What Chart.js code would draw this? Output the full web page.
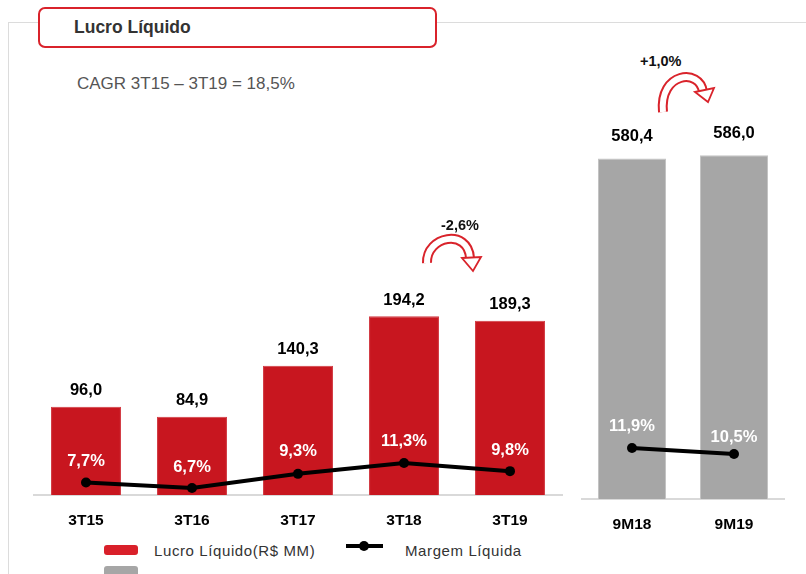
<!DOCTYPE html>
<html>
<head>
<meta charset="utf-8">
<script src="https://cdn.jsdelivr.net/npm/chart.js@4.4.0/dist/chart.umd.min.js"></script>
<style>
  body { margin: 0; width: 806px; height: 574px; overflow: hidden; background: #fff; font-family: "Liberation Sans", Arial, sans-serif; }
  .abs { position: absolute; }
  #frameTop { left: 8px; top: 22px; width: 798px; height: 0; border-top: 1px solid #dcdcdc; }
  #frameLeft { left: 8px; top: 22px; width: 0; height: 552px; border-left: 1px solid #dcdcdc; }
  #titleBox { left: 38px; top: 7px; width: 395px; height: 37px; border: 2px solid #d9232b; border-radius: 7px; background: #fff; }
  #title { left: 74px; top: 17px; font-weight: bold; font-size: 17.5px; color: #333; }
  #cagr { left: 77px; top: 74px; font-size: 17px; color: #555; }
  .leg { font-size: 15px; color: #333; letter-spacing: 0.6px; }
</style>
</head>
<body>
<div id="frameTop" class="abs"></div>
<div id="frameLeft" class="abs"></div>
<div id="titleBox" class="abs"></div>
<div id="title" class="abs">Lucro Líquido</div>
<div id="cagr" class="abs">CAGR 3T15 – 3T19 = 18,5%</div>

<div class="abs" style="left:33px;top:90px;width:530px;height:450px;"><canvas id="leftChart" width="530" height="450"></canvas></div>
<div class="abs" style="left:581px;top:90px;width:204px;height:454px;"><canvas id="rightChart" width="204" height="454"></canvas></div>

<!-- legenda -->
<div class="abs" style="left:104px;top:545px;width:34px;height:10px;background:#d9202a;border-radius:3px;"></div>
<div class="abs" style="left:104px;top:566px;width:34px;height:12px;background:#a6a6a6;border-radius:3px;"></div>
<div class="abs leg" style="left:154px;top:542px;">Lucro Líquido(R$ MM)</div>
<div class="abs" style="left:346px;top:544px;width:37px;height:4px;background:#000;"></div>
<div class="abs" style="left:359px;top:541px;width:10px;height:10px;background:#000;border-radius:50%;"></div>
<div class="abs leg" style="left:405px;top:542px;">Margem Líquida</div>

<div class="abs" style="left:441px;top:217px;font-weight:bold;font-size:14.5px;color:#111;">-2,6%</div>
<div class="abs" style="left:640px;top:53px;font-weight:bold;font-size:14.5px;color:#111;">+1,0%</div>

<svg class="abs" style="left:0;top:0;" width="806" height="574">
  <path d="M427 263 C426 236, 468 228, 470 258" fill="none" stroke="#d9232b" stroke-width="10"/>
  <path d="M427 263 C426 236, 468 228, 470 258" fill="none" stroke="#fff" stroke-width="6"/>
  <polygon points="462,258 481,257 473,271" fill="#fff" stroke="#d9232b" stroke-width="1.8"/>
  <path d="M663 112 C659 72, 700 68, 703 92" fill="none" stroke="#d9232b" stroke-width="10"/>
  <path d="M663 112 C659 72, 700 68, 703 92" fill="none" stroke="#fff" stroke-width="6"/>
  <polygon points="695,92 714,88 708,102" fill="#fff" stroke="#d9232b" stroke-width="1.8"/>
</svg>

<script>
// trimestres
let quarterLabels = ["3T15", "3T16", "3T17", "3T18", "3T19"];
let quarterLucro = [96.0, 84.9, 140.3, 194.2, 189.3];
let quarterMargem = [7.7, 6.7, 9.3, 11.3, 9.8];

// acumulado 9 meses
let ytdLabels = ["9M18", "9M19"];
let ytdLucro = [580.4, 586.0];
let ytdMargem = [11.9, 10.5];

function fmt(v) {
    return v.toFixed(1).replace('.', ',');
}

const labelPlugin = {
    id: 'valueLabels',
    afterDatasetsDraw(chart, args, opts) {
        const ctx = chart.ctx;
        ctx.save();
        ctx.textAlign = 'center';
        ctx.textBaseline = 'middle';
        ctx.font = 'bold 16.5px "Liberation Sans"';
        const bars = chart.getDatasetMeta(1).data;
        const barVals = chart.data.datasets[1].data;
        ctx.fillStyle = '#000';
        bars.forEach((b, i) => {
            ctx.fillText(fmt(barVals[i]), b.x, b.y - opts.barOffset);
        });
        const pts = chart.getDatasetMeta(0).data;
        const pctVals = chart.data.datasets[0].data;
        ctx.fillStyle = '#fff';
        pts.forEach((p, i) => {
            ctx.fillText(fmt(pctVals[i]) + '%', p.x, p.y - opts.pctOffset[i]);
        });
        ctx.restore();
    }
};

function makeChart(id, labels, lucro, margem, o) {
    return new Chart(id, {
        type: 'bar',
        data: {
            labels: labels,
            datasets: [{
                type: 'line',
                data: margem,
                yAxisID: 'y2',
                borderColor: '#000',
                borderWidth: 4,
                pointRadius: 5,
                pointBackgroundColor: '#000',
                pointBorderWidth: 0,
                order: 0
            }, {
                data: lucro,
                yAxisID: 'y',
                backgroundColor: o.color,
                borderColor: o.edge,
                borderWidth: 1,
                categoryPercentage: 1,
                barPercentage: o.barPct,
                order: 1
            }]
        },
        options: {
            responsive: false,
            animation: false,
            devicePixelRatio: 1,
            layout: { padding: 0, autoPadding: false },
            plugins: {
                legend: { display: false },
                tooltip: { enabled: false },
                valueLabels: { barOffset: o.barOffset, pctOffset: o.pctOffset }
            },
            scales: {
                x: {
                    grid: { display: false, drawTicks: false },
                    border: { display: true, color: '#d9d9d9', width: 2 },
                    ticks: { color: '#000', padding: o.tickPad, font: { family: 'Liberation Sans', size: 15.5, weight: 'bold' } },
                    afterFit: (a) => { a.height = 45; }
                },
                y: { display: false, min: 0, max: o.yMax },
                y2: { display: false, position: 'right', min: o.y2Min, max: o.y2Max }
            }
        },
        plugins: [labelPlugin]
    });
}

makeChart('leftChart', quarterLabels, quarterLucro, quarterMargem, {
    color: '#c8161f', edge: '#d23a42', barPct: 0.66,
    yMax: 440, y2Min: 5.41, y2Max: 79.9, tickPad: 16,
    barOffset: 16, pctOffset: [21, 21, 22, 22, 21]
});

makeChart('rightChart', ytdLabels, ytdLucro, ytdMargem, {
    color: '#a6a6a6', edge: '#c4c4c4', barPct: 0.667,
    yMax: 697, y2Min: 0, y2Max: 95.4, tickPad: 16,
    barOffset: 22, pctOffset: [22, 17]
});
</script>
</body>
</html>
